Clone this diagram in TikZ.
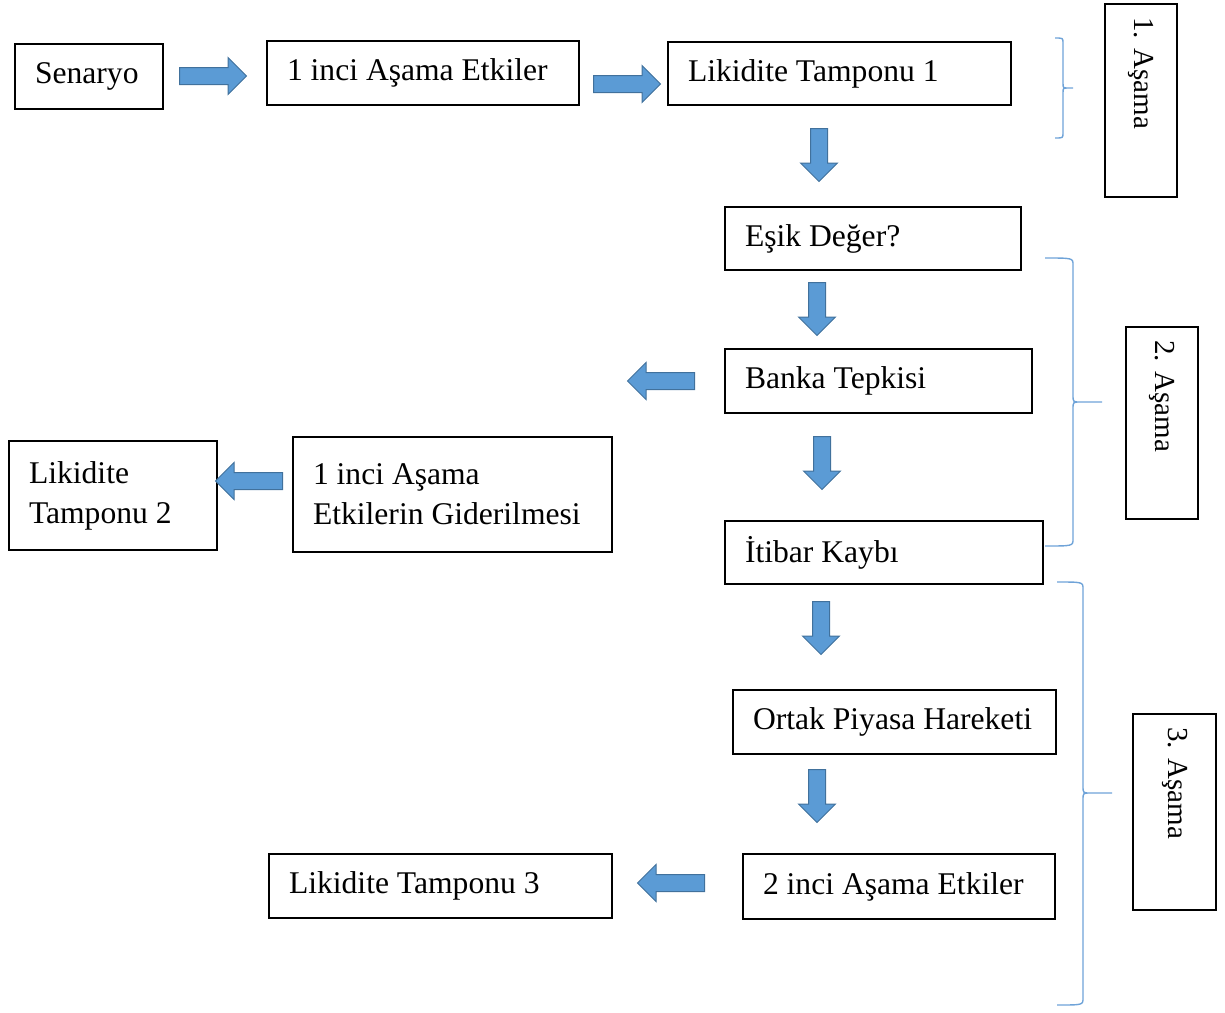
\documentclass[tikz,border=0pt]{standalone}
\usepackage{fontspec}
\setmainfont{Liberation Serif}
\usetikzlibrary{shapes.arrows}

\definecolor{arrowblue}{HTML}{5B9BD5}
\definecolor{arrowedge}{HTML}{41719C}
\definecolor{braceblue}{HTML}{6FA3D8}

\tikzset{
    stagebox/.style={draw, line width=1.8pt, rectangle, inner xsep=20pt, inner ysep=0pt,
        align=flush left, font=\fontsize{31.6}{40}\selectfont},
    phasebox/.style={draw, line width=1.8pt, rectangle, rotate=-90, inner xsep=13pt, inner ysep=0pt,
        align=flush left, font=\fontsize{29}{36}\selectfont},
    blockarrow/.style={single arrow, fill=arrowblue, draw=arrowedge, line width=1pt, anchor=tail,
        minimum height=67pt, inner sep=8pt, single arrow head extend=10pt},
    downarrow/.style={blockarrow, rotate=-90, minimum height=53pt},
    leftarrow/.style={blockarrow, rotate=180},
    phasebrace/.style={draw=braceblue, line width=1.4pt}
}

\begin{document}
\begin{tikzpicture}[x=1pt, y=-1pt]
    \useasboundingbox (0,0) rectangle (1225,1012);

    % First stage
    \node[stagebox, text width=108pt, minimum height=65pt] (scenario) at (89,76.5) {Senaryo};
    \node[stagebox, text width=272pt, minimum height=64pt] (effects1) at (423,73) {1 inci Aşama Etkiler};
    \node[stagebox, text width=303pt, minimum height=63pt] (buffer1) at (839.5,73.5) {Likidite Tamponu 1};
    \node[blockarrow] (a1) at (179,76) {};
    \node[blockarrow] (a2) at (593,84) {};
    \node[downarrow] (d1) at (819,128) {};

    % Second stage
    \node[stagebox, text width=256pt, minimum height=63pt] (threshold) at (873,238.5) {Eşik Değer?};
    \node[stagebox, text width=267pt, minimum height=64pt] (reaction) at (878.5,381) {Banka Tepkisi};
    \node[stagebox, text width=278pt, minimum height=63pt] (reputation) at (884,552.5) {İtibar Kaybı};
    \node[stagebox, text width=279pt, minimum height=115pt] (remedy) at (452.5,494.5) {1 inci Aşama\\Etkilerin Giderilmesi};
    \node[stagebox, text width=168pt, minimum height=109pt] (buffer2) at (113,495.5) {Likidite\\Tamponu 2};
    \node[downarrow] (d2) at (817,282) {};
    \node[leftarrow] (l1) at (695,381) {};
    \node[downarrow] (d3) at (822,436) {};
    \node[leftarrow] (l2) at (283,481) {};

    % Third stage
    \node[stagebox, text width=283pt, minimum height=64pt] (market) at (894.5,722) {Ortak Piyasa Hareketi};
    \node[stagebox, text width=272pt, minimum height=65pt] (effects2) at (899,886.5) {2 inci Aşama Etkiler};
    \node[stagebox, text width=303pt, minimum height=64pt] (buffer3) at (440.5,886) {Likidite Tamponu 3};
    \node[downarrow] (d4) at (821,601) {};
    \node[downarrow] (d5) at (817,769) {};
    \node[leftarrow] (l3) at (705,883) {};

    % Stage labels
    \node[phasebox, text width=167pt, minimum height=72pt] (phase1) at (1141,100.5) {1. Aşama};
    \node[phasebox, text width=166pt, minimum height=72pt] (phase2) at (1162,423) {2. Aşama};
    \node[phasebox, text width=170pt, minimum height=83pt] (phase3) at (1174.5,812) {3. Aşama};

    % Braces: ends, spine, tip, top, middle, bottom
    \foreach \xa/\xs/\xt/\ya/\ym/\yb/\r in {1055/1063/1073/38/88/138/5,
                                           1045/1073/1102/258/402/546/7,
                                           1057/1083/1112/582/793/1005/7} {
        \draw[phasebrace] (\xa,\ya) .. controls (\xs,\ya) .. (\xs,\ya+\r) -- (\xs,\ym-\r)
            .. controls (\xs,\ym) .. (\xs+\r,\ym) -- (\xt,\ym)
            (\xs+\r,\ym) .. controls (\xs,\ym) .. (\xs,\ym+\r) -- (\xs,\yb-\r)
            .. controls (\xs,\yb) .. (\xa,\yb);
    }
\end{tikzpicture}
\end{document}
